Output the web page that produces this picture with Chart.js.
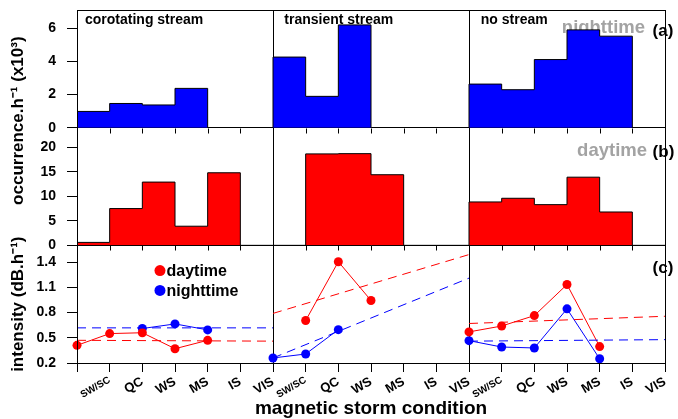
<!DOCTYPE html>
<html>
<head>
<meta charset="utf-8">
<script src="https://cdn.jsdelivr.net/npm/chart.js@4.4.0/dist/chart.umd.min.js"></script>
<style>
  body { margin: 0; background: #fff; }
  canvas { display: block; }
</style>
</head>
<body>
<canvas id="storm-chart" width="678" height="419"></canvas>
<script>
// magnetic storm conditions inside each stream panel
const conditions = ['SW/SC', 'QC', 'WS', 'MS', 'IS', 'VIS'];
const streams = ['corotating stream', 'transient stream', 'no stream'];

// (a) nighttime occurrence.h-1 (x10^3)
const nightCorotating = [0.98, 1.46, 1.37, 2.37, 0, 0];
const nightTransient = [4.26, 1.89, 6.2, 0, 0, 0];
const nightNoStream = [2.63, 2.29, 4.11, 5.9, 5.52, 0];

// (b) daytime occurrence.h-1 (x10^3)
const dayCorotating = [0.6, 7.5, 12.9, 3.9, 14.8, 0];
const dayTransient = [0, 18.65, 18.7, 14.4, 0, 0];
const dayNoStream = [8.85, 9.6, 8.3, 13.9, 6.8, 0];

// (c) intensity dB.h-1
const dayIntCorotating = [0.41, 0.55, 0.56, 0.37, 0.47, null];
const dayIntTransient = [null, 0.705, 1.405, 0.944, null, null];
const dayIntNoStream = [0.57, 0.64, 0.764, 1.134, 0.395, null];
const nightIntCorotating = [null, null, 0.61, 0.665, 0.594, null];
const nightIntTransient = [0.26, 0.307, 0.597, null, null, null];
const nightIntNoStream = [0.466, 0.39, 0.379, 0.844, 0.25, null];

// dashed trend lines, value at start / end of each stream panel
const dayTrendStart = [0.47, 0.79, 0.67];
const dayTrendEnd = [0.46, 1.49, 0.756];
const nightTrendStart = [0.618, 0.26, 0.46];
const nightTrendEnd = [0.618, 1.21, 0.478];

// tick labels
const nightTicks = [0, 2, 4, 6];
const dayTicks = [0, 5, 10, 15, 20];
const intensityTicks = [0.2, 0.5, 0.8, 1.1, 1.4];

const FONT = "'Liberation Sans', Arial, sans-serif";
const BLUE = '#0000ff';
const RED = '#ff0000';
const GREY = '#a3a3a3';
const n = conditions.length;

// bar outline as a stepped line: one point per bin start + closing point
function stepData(panels) {
  let pts = [];
  panels.forEach(function(vals, p) {
    vals.forEach(function(v, i) { pts.push({x: p * n + i, y: v}); });
  });
  pts.push({x: panels.length * n, y: 0});
  return pts;
}

function pointData(panels) {
  let pts = [];
  panels.forEach(function(vals, p) {
    vals.forEach(function(v, i) { pts.push({x: p * n + i, y: v}); });
  });
  return pts;
}

function trendSets(starts, ends, color) {
  return starts.map(function(s, p) {
    return {
      type: 'line', yAxisID: 'yc', borderColor: color, borderWidth: 1,
      borderDash: [9, 6], pointRadius: 0, fill: false,
      data: [{x: p * n, y: s}, {x: (p + 1) * n, y: ends[p]}]
    };
  });
}

const xTicks = [];
for (let i = 0; i <= streams.length * n; i++) xTicks.push({value: i});

function yAxis(lo, hi, tickVals, fmt) {
  return {
    type: 'linear', position: 'left', stack: 'rows', stackWeight: 1,
    min: lo, max: hi,
    afterBuildTicks: function(s) { s.ticks = tickVals.map(function(v) { return {value: v}; }); },
    afterFit: function(s) { s.width = 77; s.paddingTop = 0; s.paddingBottom = 0; },
    ticks: {autoSkip: false, color: '#000', padding: 11, font: {family: FONT, weight: 'bold', size: 14}, callback: fmt},
    grid: {
      color: function(c) { return c.tick && c.tick.value === lo ? '#000' : 'rgba(0,0,0,0)'; },
      tickColor: '#000', tickLength: 10, lineWidth: 1
    },
    border: {color: '#000', width: 1}
  };
}

// labels, inner ticks and frame drawn from the chart scales
const panelDecor = {
  id: 'panelDecor',
  beforeDatasetsDraw(chart) {
    const {ctx, scales} = chart;
    const x = scales.x, ya = scales.ya, yb = scales.yb, yc = scales.yc;
    ctx.save();
    function text(str, xv, yPix, size, color, align) {
      ctx.font = 'bold ' + size + 'px ' + FONT;
      ctx.fillStyle = color;
      ctx.textAlign = align;
      ctx.textBaseline = 'alphabetic';
      ctx.fillText(str, x.getPixelForValue(xv), yPix);
    }
    const streamX = [0.245, 6.345, 12.36];
    streams.forEach(function(s, p) { text(s, streamX[p], ya.getPixelForValue(6.23), 14, '#000', 'left'); });
    text('nighttime', 17.39, ya.getPixelForValue(5.73), 18.5, GREY, 'right');
    text('(a)', 17.62, ya.getPixelForValue(5.55), 17, '#000', 'left');
    text('daytime', 17.45, yb.getPixelForValue(18.3), 18.5, GREY, 'right');
    text('(b)', 17.62, yb.getPixelForValue(18.1), 17, '#000', 'left');
    text('(c)', 17.62, yc.getPixelForValue(1.268), 17, '#000', 'left');

    // legend of panel (c)
    [[RED, 'daytime', 1.30], [BLUE, 'nighttime', 1.063]].forEach(function(l) {
      const cy = yc.getPixelForValue(l[2]);
      ctx.fillStyle = l[0];
      ctx.beginPath(); ctx.arc(x.getPixelForValue(2.54), cy, 5.5, 0, Math.PI * 2); ctx.fill();
      ctx.font = 'bold 16px ' + FONT;
      ctx.fillStyle = '#000';
      ctx.textAlign = 'left';
      ctx.textBaseline = 'middle';
      ctx.fillText(l[1], x.getPixelForValue(2.74), cy + 1);
    });

    // y titles
    function vtitle(str, cy) {
      ctx.save();
      ctx.translate(18, cy);
      ctx.rotate(-Math.PI / 2);
      ctx.font = 'bold 17px ' + FONT;
      ctx.fillStyle = '#000';
      ctx.textAlign = 'center';
      ctx.textBaseline = 'middle';
      ctx.fillText(str, 0, 0);
      ctx.restore();
    }
    vtitle('occurrence.h\u207B\u00B9 (x10\u00B3)', ya.bottom - 7);
    vtitle('intensity (dB.h\u207B\u00B9)', (yc.top + yc.bottom) / 2);
    ctx.restore();
  },
  afterDraw(chart) {
    const {ctx, chartArea, scales} = chart;
    const x = scales.x;
    ctx.save();
    ctx.strokeStyle = '#000';
    ctx.lineWidth = 1;
    ctx.strokeRect(Math.round(chartArea.left) + 0.5, Math.round(chartArea.top) + 0.5,
      Math.round(chartArea.width), Math.round(chartArea.height));
    // ticks below panels (a) and (b)
    [scales.ya, scales.yb].forEach(function(s) {
      const y0 = Math.round(s.getPixelForValue(0)) + 0.5;
      xTicks.forEach(function(t) {
        const px = Math.round(x.getPixelForValue(t.value)) + 0.5;
        ctx.beginPath(); ctx.moveTo(px, y0); ctx.lineTo(px, y0 + 5); ctx.stroke();
      });
    });
    ctx.restore();
  }
};

const datasets = [
  {
    type: 'line', yAxisID: 'ya', stepped: 'before', data: stepData([nightCorotating, nightTransient, nightNoStream]),
    borderColor: '#000', borderWidth: 1, backgroundColor: BLUE, fill: 'origin', pointRadius: 0
  },
  {
    type: 'line', yAxisID: 'yb', stepped: 'before', data: stepData([dayCorotating, dayTransient, dayNoStream]),
    borderColor: '#000', borderWidth: 1, backgroundColor: RED, fill: 'origin', pointRadius: 0
  }
].concat(trendSets(dayTrendStart, dayTrendEnd, RED), trendSets(nightTrendStart, nightTrendEnd, BLUE), [
  {
    type: 'line', yAxisID: 'yc', data: pointData([dayIntCorotating, dayIntTransient, dayIntNoStream]),
    borderColor: RED, borderWidth: 1, pointRadius: 4.5, pointBackgroundColor: RED, pointBorderWidth: 0,
    spanGaps: false, clip: false
  },
  {
    type: 'line', yAxisID: 'yc', data: pointData([nightIntCorotating, nightIntTransient, nightIntNoStream]),
    borderColor: BLUE, borderWidth: 1, pointRadius: 4.5, pointBackgroundColor: BLUE, pointBorderWidth: 0,
    spanGaps: false, clip: false
  }
]);

new Chart(document.getElementById('storm-chart'), {
  type: 'line',
  data: {datasets: datasets},
  plugins: [panelDecor],
  options: {
    responsive: false,
    animation: false,
    devicePixelRatio: 1,
    layout: {padding: {left: 0, right: 13, top: 10, bottom: 0}},
    plugins: {legend: {display: false}, tooltip: {enabled: false}},
    scales: {
      x: {
        type: 'linear', position: 'bottom', min: 0, max: streams.length * n,
        afterBuildTicks: function(s) { s.ticks = xTicks.map(function(t) { return {value: t.value}; }); },
        afterFit: function(s) { s.height = 56; },
        ticks: {
          autoSkip: false, minRotation: 30, maxRotation: 30, padding: 2, color: '#000',
          font: function(c) {
            const small = c.tick && c.tick.label === 'SW/SC';
            return {family: FONT, weight: 'bold', size: small ? 10 : 13};
          },
          callback: function(v) { return v === 0 ? '' : conditions[(v - 1) % n]; }
        },
        grid: {
          color: function(c) { return c.tick && c.tick.value % n === 0 ? '#000' : 'rgba(0,0,0,0)'; },
          tickColor: '#000', tickLength: 9, lineWidth: 1
        },
        border: {color: '#000', width: 1},
        title: {
          display: true, text: 'magnetic storm condition', color: '#000',
          font: {family: FONT, weight: 'bold', size: 19, lineHeight: 1}, padding: {top: 0, bottom: 1}
        }
      },
      // stacked rows: the last listed ends up on top
      yc: yAxis(0.2, 1.6, intensityTicks, function(v) { return v.toFixed(1); }),
      yb: yAxis(0, 24, dayTicks, function(v) { return String(v); }),
      ya: yAxis(0, 7.1, nightTicks, function(v) { return String(v); })
    }
  }
});
</script>
</body>
</html>
